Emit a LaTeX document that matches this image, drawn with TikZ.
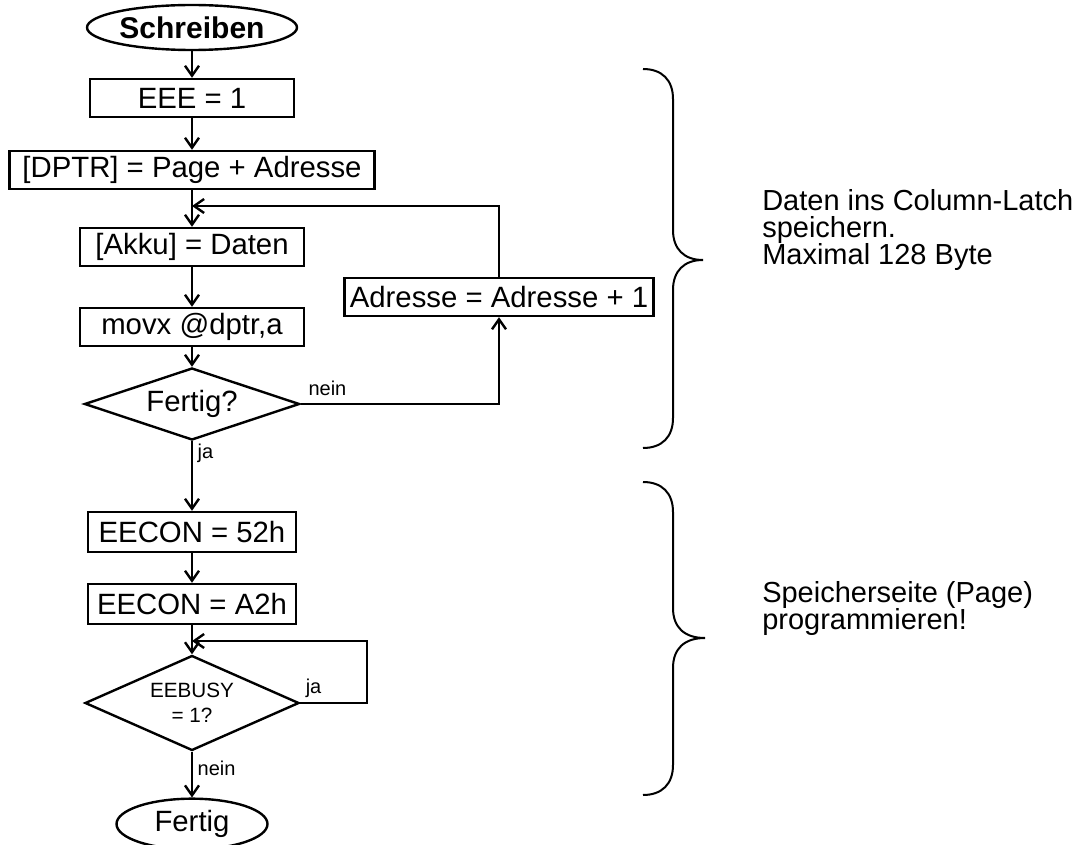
\documentclass[tikz,border=0pt]{standalone}
\usepackage{fontspec}
\setmainfont{Liberation Sans}
\usetikzlibrary{shapes.geometric, arrows.meta, positioning}

\newcommand\notefont{\fontsize{21.75}{20.25}\selectfont\lineskiplimit -20pt\relax}

\tikzset{
  box/.style = {draw, rectangle, line width=1.8pt, minimum height=28.5pt, inner sep=0pt, font=\fontsize{22}{26}\selectfont},
  term/.style = {draw, ellipse, line width=1.8pt, inner sep=0pt, font=\fontsize{22}{26}\selectfont},
  test/.style = {draw, diamond, aspect=2.2, line width=1.8pt, inner sep=0pt, font=\fontsize{22}{26}\selectfont},
  flow/.style = {line width=1.8pt, -{Straight Barb[length=7.5pt,width=10.5pt]}},
  lbl/.style = {font=\fontsize{15}{18}\selectfont},
  note/.style = {align=left, anchor=west, inner sep=0pt, font=\notefont},
  curly/.style = {line width=1.5pt},
}

\begin{document}
\begin{tikzpicture}[x=0.75pt, y=-0.75pt]
  \useasboundingbox (0,0) rectangle (1078,845);

  \node (start) [term, minimum width=157.5pt, minimum height=33.75pt, font=\fontsize{22.5}{25}\selectfont\bfseries] at (192,27.5) {Schreiben};
  \node (eee) [box, minimum width=153pt] at (192,98) {EEE = 1};
  \node (dptr) [box, minimum width=273.75pt] at (192,170) {[DPTR] = Page + Adresse};
  \node (akku) [box, minimum width=168pt] at (192,247) {[Akku] = Daten};
  \node (movx) [box, minimum width=168pt] at (192,327) {movx @dptr,a};
  \node (fertigq) [test, aspect=3, minimum width=161.25pt, minimum height=54pt] at (192,404) {Fertig?};
  \node (adr) [box, minimum width=231.75pt] at (499,297) {Adresse = Adresse + 1};
  \node (ee52) [box, minimum width=156pt, minimum height=30pt] at (192,532) {EECON = 52h};
  \node (eea2) [box, minimum width=156pt, minimum height=30pt] at (192,604) {EECON = A2h};
  \node (busy) [test, minimum width=160.5pt, minimum height=71.25pt, align=center, font=\fontsize{15.5}{18.75}\selectfont] at (192,703) {EEBUSY\\= 1?};
  \node (fin) [term, minimum width=113.25pt, minimum height=38pt] at (192,824) {Fertig};

  \coordinate (j1) at (192,206);
  \coordinate (j2) at (192,641);
  \coordinate (busyr) at (367,703);

  \path [flow]
    (start) edge (eee)
    (eee) edge (dptr)
    (dptr) edge (akku)
    (akku) edge (movx)
    (movx) edge (fertigq)
    (fertigq) edge node [lbl, right, pos=0.17] {ja} (ee52)
    (ee52) edge (eea2)
    (eea2) edge (busy)
    (busy) edge node [lbl, right, pos=0.36] {nein} (fin);

  \draw [flow] (fertigq.east) -| node [lbl, pos=0, above right, inner sep=5pt] {nein} (adr);
  \draw [flow] (adr) |- (j1);
  \draw [flow] (busy.east) -- node [lbl, pos=0.2, above] {ja} (busyr) |- (j2);

  % braces
  \draw [curly] (643,69) .. controls (662,69) and (673,80) .. (673,99) -- (673,230)
    .. controls (673,249) and (684,260) .. (703,260)
    .. controls (684,260) and (673,271) .. (673,290) -- (673,418)
    .. controls (673,437) and (662,448) .. (643,448);
  \draw [curly] (643,482) .. controls (662,482) and (673,493) .. (673,512) -- (673,608)
    .. controls (673,627) and (684,638) .. (705,638)
    .. controls (684,638) and (673,649) .. (673,668) -- (673,765)
    .. controls (673,784) and (662,795) .. (643,795);

  \node (note1) [note] at (762,230) {Daten ins Column-Latch\\speichern.\\Maximal 128 Byte};
  \node (note2) [note] at (762,608) {Speicherseite (Page)\\programmieren!};
\end{tikzpicture}
\end{document}
